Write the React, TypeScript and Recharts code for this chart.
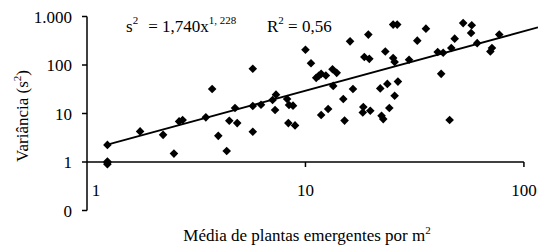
import React from 'react';
import { ScatterChart, Scatter, XAxis, YAxis, ReferenceLine } from 'recharts';

// Média de plantas emergentes por m² (x) e variância (y)
const mediaPlantas = [
  1.24, 1.24, 1.24, 1.24, 1.75, 2.23, 2.5, 2.64, 2.74, 3.5, 3.74, 3.99, 4.36, 4.48, 4.76, 4.87,
  5.74, 5.74, 5.74, 6.26, 7.07, 7.26, 7.33, 8.24, 8.35, 8.41, 8.77, 8.96, 10.0, 10.6, 11.2, 11.5,
  11.8, 11.8, 12.4, 12.7, 13.3, 13.4, 13.9, 14.9, 15.1, 16.0, 16.5, 18.3, 18.4, 18.6, 19.4, 19.6,
  19.8, 22.0, 22.3, 22.7, 23.2, 23.7, 24.2, 25.2, 25.2, 25.6, 25.6, 26.3, 26.5, 29.8, 32.5, 35.6,
  40.3, 41.8, 42.7, 45.7, 46.5, 48.2, 52.7, 57.3, 57.7, 61.1, 70.2, 71.4, 77.1,
];
const variancia = [
  1.02, 0.96, 0.9, 2.25, 4.27, 3.63, 1.49, 6.88, 7.32, 8.32, 32.1, 3.46, 1.69, 7.08, 13.0, 6.34,
  83.4, 14.3, 4.19, 15.2, 19.0, 11.8, 24.5, 19.9, 6.34, 15.0, 14.5, 5.68, 206, 109, 54.3, 59.7,
  65.7, 9.29, 60.6, 12.4, 81.5, 37.1, 68.9, 19.9, 7.14, 307, 32.1, 10.5, 13.6, 146, 423, 134,
  11.4, 32.9, 8.98, 7.67, 190, 40.8, 13.0, 681, 139, 115, 23.3, 681, 45.5, 128, 318, 562,
  185, 65.7, 179, 7.32, 224, 349, 731, 458, 659, 282, 190, 224, 423,
];

// Linha de tendência (s² = 1,740x^1,228), extremos
const trendX = [1.24, 116];
const trendY = [2.27, 597];

const xTicks = [1, 10, 100];
const yTicks = [0.1, 1, 10, 100, 1000];
const yTickLabels = ['0', '1', '10', '100', '1.000'];

const points = mediaPlantas.map((x, i) => ({ x, y: variancia[i] }));
const trend = trendX.map((x, i) => ({ x, y: trendY[i] }));

const W = 538;
const H = 245;
const TOP = 16.5;
const BOTTOM_PLOT = 210.5;
const AXIS_Y = TOP + ((BOTTOM_PLOT - TOP) * 3) / 4;
const FONT = '"Liberation Serif", "Times New Roman", serif';

const Diamond = (props: any) => {
  const { cx, cy } = props;
  if (cx == null || cy == null) return null;
  const r = 4.3;
  return <path d={`M${cx},${cy - r}L${cx + r},${cy}L${cx},${cy + r}L${cx - r},${cy}Z`} fill="#000" />;
};

const XTick = (props: any) => {
  const { x, payload } = props;
  const v = payload.value;
  return (
    <g>
      {v !== 1 && <line x1={x} x2={x} y1={AXIS_Y} y2={AXIS_Y + 5} stroke="#000" strokeWidth={1.5} />}
      <text x={x + (v === 1 ? 9 : 0)} y={196} textAnchor="middle" fontFamily={FONT} fontSize={17} fill="#000">
        {v}
      </text>
    </g>
  );
};

export default function App() {
  return (
    <div style={{ position: 'absolute', left: 0, top: 0, width: W, height: H, background: '#fff' }}>
      <ScatterChart width={W} height={H} margin={{ top: TOP, right: 0, bottom: H - BOTTOM_PLOT - 30, left: 0 }}>
        <XAxis
          type="number"
          dataKey="x"
          scale="log"
          domain={[1, 116]}
          ticks={xTicks}
          allowDataOverflow
          axisLine={false}
          tickLine={false}
          height={30}
          tick={<XTick />}
        />
        <YAxis
          type="number"
          dataKey="y"
          scale="log"
          domain={[0.1, 1000]}
          ticks={yTicks}
          allowDataOverflow
          width={87}
          tickSize={5}
          tickMargin={10}
          axisLine={{ stroke: '#000', strokeWidth: 1.5 }}
          tickLine={{ stroke: '#000', strokeWidth: 1.5 }}
          tick={{ fontFamily: FONT, fontSize: 17, fill: '#000' }}
          tickFormatter={(v: number) => yTickLabels[yTicks.indexOf(v)] ?? String(v)}
        />
        <ReferenceLine
          segment={[
            { x: xTicks[0], y: 1 },
            { x: xTicks[2], y: 1 },
          ]}
          stroke="#000"
          strokeWidth={1.5}
          ifOverflow="visible"
        />
        <Scatter
          data={trend}
          isAnimationActive={false}
          line={{ stroke: '#000', strokeWidth: 1.8 }}
          shape={() => <g />}
        />
        <Scatter data={points} isAnimationActive={false} shape={<Diamond />} />
        <text x={126} y={32} fontFamily={FONT} fontSize={17} fill="#000">
          s
          <tspan dy={-8} fontSize={11}>2</tspan>
          <tspan dy={8} dx={10}>= 1,740x</tspan>
          <tspan dy={-8} fontSize={11}>1, 228</tspan>
        </text>
        <text x={267} y={32} fontFamily={FONT} fontSize={17} fill="#000">
          R
          <tspan dy={-8} fontSize={11}>2</tspan>
          <tspan dy={8}> = 0,56</tspan>
        </text>
        <text transform="translate(28, 116) rotate(-90)" textAnchor="middle" fontFamily={FONT} fontSize={17} fill="#000">
          Variância (s
          <tspan dy={-7} fontSize={11}>2</tspan>
          <tspan dy={7}>)</tspan>
        </text>
        <text x={307} y={241} textAnchor="middle" fontFamily={FONT} fontSize={17} fill="#000">
          Média de plantas emergentes por m
          <tspan dy={-7} fontSize={11}>2</tspan>
        </text>
      </ScatterChart>
    </div>
  );
}
